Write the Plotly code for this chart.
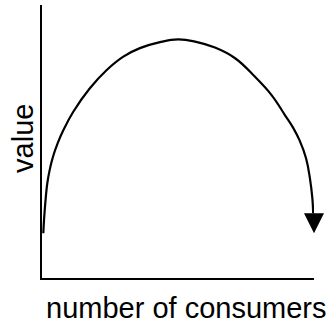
import plotly.graph_objects as go

# curve (axis units 0-100, no ticks shown)
consumers = [0.48, 0.74, 1.21, 1.95, 2.83, 4.04, 5.74, 7.87, 11.5, 17.6, 23.8, 29.9, 36.0,
             43.4, 50.0, 56.3, 63.6, 71.0, 78.3, 84.4, 89.3, 92.3, 94.7, 97.1, 98.5,
             99.4, 99.7]
value = [16.4, 21.2, 27.4, 34.7, 39.6, 44.4, 49.3, 54.2, 60.9, 69.5, 76.2, 81.1, 84.2,
         86.4, 87.4, 86.6, 84.4, 80.5, 73.7, 67.0, 59.7, 55.1, 50.4, 43.8, 36.5,
         29.2, 23.7]
arrow_tip = (100.0, 16.4)

x_label = "number of consumers"
y_label = "value"

font = dict(family="Liberation Sans, Arial, sans-serif", size=29, color="black")

fig = go.Figure()
fig.add_trace(go.Scatter(
    x=consumers, y=value, mode="lines",
    line=dict(color="black", width=2.2, shape="spline", smoothing=1.2),
    hoverinfo="skip", showlegend=False,
))

# arrow head at the end of the curve
fig.add_annotation(
    x=arrow_tip[0], y=arrow_tip[1], xref="x", yref="y",
    ax=0, ay=-21, text="", showarrow=True,
    arrowhead=2, arrowsize=2, arrowwidth=2, arrowcolor="black",
)

fig.add_annotation(text=x_label, xref="paper", yref="paper", x=0.529, y=-0.11,
                   showarrow=False, font=font, xanchor="center", yanchor="middle")
fig.add_annotation(text=y_label, xref="paper", yref="paper", x=-0.07, y=0.513,
                   showarrow=False, font=font, textangle=-90,
                   xanchor="center", yanchor="middle")

axis_style = dict(showline=True, linecolor="black", linewidth=1.5, showgrid=False,
                  zeroline=False, showticklabels=False, ticks="", fixedrange=True)
fig.update_xaxes(range=[0, 100], **axis_style)
fig.update_yaxes(range=[0, 100], **axis_style)

fig.update_layout(
    width=329, height=329,
    margin=dict(l=42, r=15, t=5, b=51),
    plot_bgcolor="white", paper_bgcolor="white",
    font=font,
)

# drop the browser's default 8px page margin
fig.write_html("out.html", config={"displayModeBar": False},
               post_script="document.body.style.margin='0';")
